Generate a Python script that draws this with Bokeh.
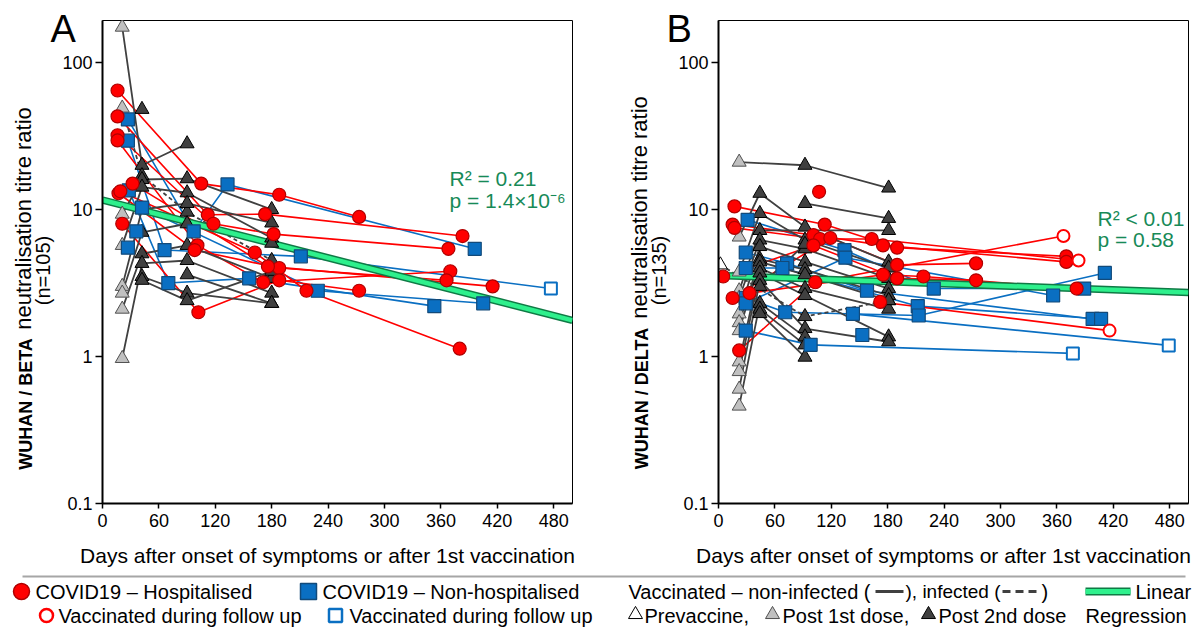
import math
from bokeh.plotting import figure
from bokeh.models import Range1d, FixedTicker, CustomJSTickFormatter, GridBox, Column, Row
from bokeh.core.properties import value
from bokeh.embed import file_html
from bokeh.resources import INLINE

FONT = "Liberation Sans"

# ---------------- data : panel A (Wuhan / Beta) ----------------
A_hosp_days = [[16, 105, 188, 273], [16, 112, 173, 383], [16, 118, 182, 368], [16, 101, 171, 370],
               [17, 98, 188, 366], [19, 162, 217, 380], [32, 176, 415], [21, 102, 188, 273]]
A_hosp_vals = [[64.5, 15, 12.6, 8.9], [43, 9.2, 9.3, 6.6], [32, 8.0, 6.8, 5.4], [29.5, 5.7, 3.2, 3.8],
               [12.9, 5.3, 4.0, 3.3], [13.3, 5.1, 2.8, 1.13], [15, 4.1, 3.0], [8.0, 2.0, 3.3, 2.8]]
A_hosp_open_last = [False, False, False, False, False, False, False, False]

A_nonhosp_days = [[27, 97, 133, 396], [27, 66, 211, 477], [28, 70, 156, 353], [42, 229, 405], [27], [36]]
A_nonhosp_vals = [[41, 7.1, 14.8, 5.4], [29.4, 5.3, 4.8, 2.9], [13.5, 3.16, 3.4, 2.2], [10.3, 2.8, 2.3], [5.5], [7.1]]
A_nonhosp_open_last = [False, True, False, False, False, False]

A_vac_days = [[21, 42, 90], [21, 42, 90, 180], [21, 42, 90, 180], [21, 42, 90, 180], [21, 42, 90, 180],
              [21, 42, 90, 180], [21, 42, 90, 180], [21, 42, 90, 180], [42, 90, 180], [42, 90, 180],
              [90, 180], [42]]
A_vac_vals = [[174, 20, 28], [49, 17, 9.6, 4.5], [9.3, 16, 16.2, 10], [5.7, 14.2, 13, 6.4], [3.0, 10, 11, 8.1],
              [2.7, 7.0, 8.0, 5.9], [2.1, 5.0, 5.7, 3.4], [0.97, 4.3, 4.5, 2.7], [3.5, 2.7, 2.3], [3.3, 2.4, 3.8],
              [3.6, 2.3], [48]]
A_vac_dose = [[1, 2, 2], [1, 2, 2, 2], [1, 2, 2, 2], [1, 2, 2, 2], [1, 2, 2, 2], [1, 2, 2, 2], [1, 2, 2, 2],
              [1, 2, 2, 2], [2, 2, 2], [2, 2, 2], [2, 2], [2]]
A_vac_dashed = [False, True, False, False, False, False, False, False, False, False, False, False]

A_reg_days = [0, 500]
A_reg_vals = [11.6, 1.76]
A_stats = ["R\u00b2 = 0.21", "p = 1.4\u00d710\u207b\u2076"]

# ---------------- data : panel B (Wuhan / Delta) ----------------
B_hosp_days = [[17, 113, 190, 370], [15, 101, 175, 370], [17, 108, 163, 383], [22, 103, 367],
               [15, 119, 190, 274], [5, 101, 190, 274], [33, 175, 218, 381], [107], [172, 416]]
B_hosp_vals = [[10.5, 7.9, 5.5, 4.8], [7.9, 6.7, 5.7, 4.4], [7.5, 6.3, 6.3, 4.5], [1.1, 3.2, 6.6],
               [2.5, 6.4, 4.2, 4.3], [3.5, 5.7, 3.4, 3.3], [2.7, 3.6, 3.5, 2.9], [13.2], [2.35, 1.5]]
B_hosp_open_last = [False, False, True, True, False, False, False, False, True]

B_nonhosp_days = [[31, 134, 229, 389], [29, 73, 158, 398], [29, 68, 212, 407], [29, 71, 213, 411],
                  [29, 135, 356], [29, 98, 377], [143, 479], [153]]
B_nonhosp_vals = [[8.5, 5.3, 2.9, 2.9], [5.1, 4.3, 2.8, 1.8], [4.0, 4.0, 2.2, 1.8], [2.5, 2.0, 1.9, 3.7],
                  [2.3, 4.7, 2.6], [1.5, 1.2, 1.05], [1.95, 1.19], [1.4]]
B_nonhosp_open_last = [False, False, False, False, False, True, True, False]

B_vac_days = [[22, 92, 181], [22, 44, 92, 181], [22, 44, 92, 181], [22, 44, 181], [22, 44, 92, 181],
              [22, 44, 92, 181], [22, 44, 92, 181], [22, 44, 92, 181], [22, 44, 92, 181], [22, 44, 92, 181],
              [22, 44, 92, 181], [22, 44, 92], [44, 92], [44, 92], [92, 181], [2, 92, 181], [44, 92]]
B_vac_vals = [[21, 20, 14], [6.5, 12.9, 7.6, 4.4], [3.76, 9.4, 6.2, 4.0], [2.8, 7.2, 7.2], [2.5, 6.2, 5.4, 3.4],
              [1.95, 5.6, 4.4, 2.9], [1.7, 4.6, 3.9, 2.6], [1.5, 4.4, 3.6, 2.4], [0.92, 4.0, 2.9, 2.1],
              [0.79, 3.7, 2.6, 1.36], [0.6, 3.3, 1.55, 1.26], [0.46, 2.3, 1.36], [2.1, 1.2], [1.96, 0.99],
              [11, 8.7], [4.2, 1.87, 2.4], [3.0, 5.8]]
B_vac_dose = [[1, 2, 2], [1, 2, 2, 2], [1, 2, 2, 2], [1, 2, 2], [1, 2, 2, 2], [1, 2, 2, 2], [1, 2, 2, 2],
              [1, 2, 2, 2], [1, 2, 2, 2], [1, 2, 2, 2], [1, 2, 2, 2], [1, 2, 2], [2, 2], [2, 2], [2, 2],
              [0, 2, 2], [2, 2]]
B_vac_dashed = [False] * 15 + [True, False]

B_reg_days = [0, 500]
B_reg_vals = [3.56, 2.72]
B_stats = ["R\u00b2 < 0.01", "p = 0.58"]

x_ticks = [0, 60, 120, 180, 240, 300, 360, 420, 480]
y_ticks = [0.1, 1, 10, 100]
x_title = "Days after onset of symptoms or after 1st vaccination"

# ---------------- styling / geometry ----------------
RED, RED_EDGE = "#ff0000", "#b00000"
BLUE, BLUE_EDGE = "#0a6fc2", "#124a7a"
GREY_LINE = "#404040"
LIGHT_TRI, DARK_TRI = "#c0c0c0", "#404040"
GREEN_TXT = "#178a57"

TOP, BOTTOM, PPD = 20, 503, 147.0
Y_MAX = 10 ** (-1 + (BOTTOM - TOP) / PPD)


def make_panel(left, width, hosp_d, hosp_v, hosp_open, nh_d, nh_v, nh_open,
               vac_d, vac_v, vac_dose, vac_dash, reg_d, reg_v):
    right = width - left - 470
    p = figure(width=width, height=570, y_axis_type="log",
               x_range=Range1d(0, 500), y_range=Range1d(0.1, Y_MAX),
               toolbar_location=None, output_backend="svg",
               min_border_left=left, min_border_right=right,
               min_border_top=TOP, min_border_bottom=570 - BOTTOM)
    p.grid.visible = False
    p.outline_line_color = "black"
    p.outline_line_width = 1
    p.background_fill_color = "white"
    p.border_fill_color = "white"

    p.xaxis.ticker = FixedTicker(ticks=x_ticks)
    p.yaxis.ticker = FixedTicker(ticks=y_ticks)
    p.yaxis.formatter = CustomJSTickFormatter(code="return tick < 1 ? tick.toFixed(1) : tick.toFixed(0);")
    for ax in (p.xaxis, p.yaxis):
        ax.axis_line_width = 2
        ax.axis_line_color = "black"
        ax.major_tick_line_width = 1.5
        ax.major_tick_line_color = "black"
        ax.minor_tick_line_color = None
        ax.major_tick_in = 0
        ax.major_label_text_font = FONT
        ax.major_label_text_font_size = "18px"
        ax.major_label_text_color = "black"
    p.xaxis.major_tick_out = 5
    p.yaxis.major_tick_out = 7
    p.xaxis.major_label_standoff = 5
    p.yaxis.major_label_standoff = 3

    for d, v in zip(nh_d, nh_v):
        if len(d) > 1:
            p.line(d, v, line_color=BLUE, line_width=1.6)
    for d, v in zip(hosp_d, hosp_v):
        if len(d) > 1:
            p.line(d, v, line_color=RED, line_width=1.6)
    for i, (d, v) in enumerate(zip(vac_d, vac_v)):
        if len(d) > 1:
            p.line(d, v, line_color=GREY_LINE, line_width=1.8,
                   line_dash="4 3" if vac_dash[i] else "solid")

    p.line(reg_d, reg_v, line_color="#0f7a45", line_width=7.5)
    p.line(reg_d, reg_v, line_color="#2ef08c", line_width=4.5)

    tri = {0: ([], []), 1: ([], []), 2: ([], [])}
    for d, v, ds in zip(vac_d, vac_v, vac_dose):
        for a, b, c in zip(d, v, ds):
            tri[c][0].append(a)
            tri[c][1].append(b)
    p.scatter(tri[0][0], tri[0][1], marker="triangle", size=14, fill_color="white",
              line_color="black", line_width=1)
    p.scatter(tri[1][0], tri[1][1], marker="triangle", size=14, fill_color=LIGHT_TRI,
              line_color="#505050", line_width=1)
    p.scatter(tri[2][0], tri[2][1], marker="triangle", size=14, fill_color=DARK_TRI,
              line_color="black", line_width=1)

    def split(ds, vs, opens):
        fx, fy, ox, oy = [], [], [], []
        for d, v, o in zip(ds, vs, opens):
            for j, (a, b) in enumerate(zip(d, v)):
                if o and j == len(d) - 1:
                    ox.append(a); oy.append(b)
                else:
                    fx.append(a); fy.append(b)
        return fx, fy, ox, oy

    fx, fy, ox, oy = split(nh_d, nh_v, nh_open)
    p.scatter(fx, fy, marker="square", size=13, fill_color=BLUE, line_color=BLUE_EDGE, line_width=1.2)
    p.scatter(ox, oy, marker="square", size=12, fill_color="white", line_color=BLUE, line_width=2)
    fx, fy, ox, oy = split(hosp_d, hosp_v, hosp_open)
    p.scatter(fx, fy, marker="circle", size=13, fill_color=RED, line_color=RED_EDGE, line_width=1.2)
    p.scatter(ox, oy, marker="circle", size=12, fill_color="white", line_color=RED, line_width=2)
    return p


pA = make_panel(102, 600, A_hosp_days, A_hosp_vals, A_hosp_open_last,
                A_nonhosp_days, A_nonhosp_vals, A_nonhosp_open_last,
                A_vac_days, A_vac_vals, A_vac_dose, A_vac_dashed, A_reg_days, A_reg_vals)
pB = make_panel(118, 602, B_hosp_days, B_hosp_vals, B_hosp_open_last,
                B_nonhosp_days, B_nonhosp_vals, B_nonhosp_open_last,
                B_vac_days, B_vac_vals, B_vac_dose, B_vac_dashed, B_reg_days, B_reg_vals)

# ---------------- legend strip ----------------
pL = figure(width=1202, height=60, x_range=Range1d(0, 1202), y_range=Range1d(0, 60),
            toolbar_location=None, output_backend="svg", min_border=0)
pL.axis.visible = False
pL.grid.visible = False
pL.outline_line_color = None
R1, R2 = 39, 15


def ltxt(x, y, t, size="20px"):
    pL.text(x=[x], y=[y], text=[t], text_font=value(FONT), text_font_size=size,
            text_baseline="middle", text_align="left", text_color="black")


pL.line([22, 1185], [54, 54], line_color="#a6a6a6", line_width=2)
pL.scatter([21], [R1], marker="circle", size=16, fill_color=RED, line_color=RED_EDGE, line_width=1.5)
ltxt(35, R1, "COVID19 \u2013 Hospitalised")
pL.scatter([308], [R1], marker="square", size=16, fill_color=BLUE, line_color=BLUE_EDGE, line_width=1.5)
ltxt(322, R1, "COVID19 \u2013 Non-hospitalised")
pL.scatter([46], [R2], marker="circle", size=13, fill_color="white", line_color=RED, line_width=2.5)
ltxt(58, R2, "Vaccinated during follow up")
pL.scatter([335], [R2], marker="square", size=13, fill_color="white", line_color=BLUE, line_width=2.5)
ltxt(349, R2, "Vaccinated during follow up")

ltxt(628, R1, "Vaccinated \u2013 non-infected (")
pL.line([875, 903], [R1, R1], line_color=GREY_LINE, line_width=3)
ltxt(905, R1, "), infected (", size="19px")
pL.line([1002, 1038], [R1, R1], line_color=GREY_LINE, line_width=3, line_dash="8 5")
ltxt(1041, R1, ")")
pL.scatter([635], [R2 + 1], marker="triangle", size=14, fill_color="white", line_color="black", line_width=1)
ltxt(644, R2, "Prevaccine,")
pL.scatter([772], [R2 + 1], marker="triangle", size=14, fill_color=LIGHT_TRI, line_color="#505050", line_width=1)
ltxt(782, R2, "Post 1st dose,")
pL.scatter([928], [R2 + 1], marker="triangle", size=14, fill_color=DARK_TRI, line_color="black", line_width=1)
ltxt(938, R2, "Post 2nd dose")
pL.line([1085, 1130], [R1, R1], line_color="#0f7a45", line_width=8)
pL.line([1085, 1130], [R1, R1], line_color="#2ef08c", line_width=5)
ltxt(1135, R1, "Linear")
ltxt(1085, R2, "Regression")

# ---------------- transparent text overlay (page pixel coordinates) ----------------
pO = figure(width=1202, height=630, x_range=Range1d(0, 1202), y_range=Range1d(0, 630),
            toolbar_location=None, output_backend="svg", min_border=0)
pO.axis.visible = False
pO.grid.visible = False
pO.outline_line_color = None
pO.background_fill_alpha = 0
pO.border_fill_alpha = 0
H = 630


def otxt(x, py, t, size, align="left", angle=0.0, color="black", style="normal"):
    pO.text(x=[x], y=[H - py], text=[t], text_font=value(FONT), text_font_size=size,
            text_align=align, text_baseline="middle", angle=angle, text_color=color,
            text_font_style=style)


for letter, lx in (("A", 50), ("B", 666)):
    otxt(lx, 28, letter, "38px")

for left, virus, n_txt, bold_w in ((102, "BETA", "(n=105)", 133), (718, "DELTA", "(n=135)", 144)):
    otxt(left - 77, 470 - bold_w / 2, "WUHAN / " + virus, "18px", align="center",
         angle=math.pi / 2, style="bold")
    reg_start = 470 - bold_w - 8
    otxt(left - 79, reg_start - 111, "neutralisation titre ratio", "22px", align="center",
         angle=math.pi / 2)
    otxt(left - 60, 270, n_txt, "20px", align="center", angle=math.pi / 2)

otxt(327, 555, x_title, "21px", align="center")
otxt(943, 555, x_title, "21px", align="center")

otxt(449, 178, A_stats[0], "21px", color=GREEN_TXT)
otxt(449, 200, A_stats[1], "21px", color=GREEN_TXT)
otxt(1097, 218, B_stats[0], "21px", color=GREEN_TXT)
otxt(1097, 239, B_stats[1], "21px", color=GREEN_TXT)

base = Column(children=[Row(children=[pA, pB], spacing=0), pL], spacing=0)
top = Column(children=[pO], spacing=0)
layout = GridBox(children=[(base, 0, 0), (top, 0, 0)], spacing=0)
open("out.html", "w").write(file_html(layout, INLINE))
